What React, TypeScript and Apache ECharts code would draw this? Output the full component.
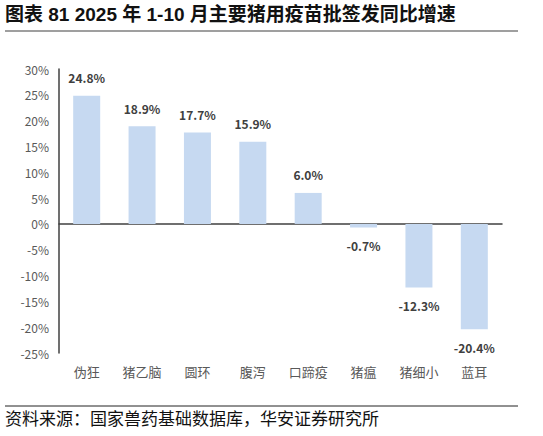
import { useEffect, useRef } from "react"
import * as echarts from "echarts"

const categories = ["伪狂", "猪乙脑", "圆环", "腹泻", "口蹄疫", "猪瘟", "猪细小", "蓝耳"]
const growth = [24.8, 18.9, 17.7, 15.9, 6.0, -0.7, -12.3, -20.4]

const title = "图表 81 2025 年 1-10 月主要猪用疫苗批签发同比增速"
const source = "资料来源：国家兽药基础数据库，华安证券研究所"

const App = () => {
  const chartRef = useRef<HTMLDivElement>(null)

  useEffect(() => {
    if (!chartRef.current) return
    const chart = echarts.init(chartRef.current, undefined, { renderer: "svg" })

    chart.setOption({
      animation: false,
      backgroundColor: "#fff",
      textStyle: { fontFamily: "'Noto Sans CJK SC', 'Noto Sans', sans-serif" },
      graphic: [
        {
          type: "text",
          left: 5,
          top: 5,
          style: {
            text: title,
            fontSize: 19,
            fontWeight: "bold",
            fill: "#111",
            fontFamily: "'Liberation Sans', 'Noto Sans CJK SC', sans-serif",
          },
        },
        {
          type: "line",
          shape: { x1: 5, y1: 31, x2: 518, y2: 31 },
          style: { stroke: "#7f7f7f", lineWidth: 1.5 },
        },
        {
          type: "line",
          shape: { x1: 5, y1: 406, x2: 518, y2: 406 },
          style: { stroke: "#222", lineWidth: 1 },
        },
        {
          type: "text",
          left: 5,
          top: 409,
          style: {
            text: source,
            fontSize: 17,
            fill: "#111",
            fontFamily: "'Noto Sans CJK SC', sans-serif",
          },
        },
      ],
      grid: { left: 59, right: 41, top: 69, bottom: 83, containLabel: false },
      xAxis: [
        {
          type: "category",
          data: categories,
          axisLine: { onZero: true, lineStyle: { color: "#404040", width: 1.5 } },
          axisTick: { show: false },
          axisLabel: { show: false },
        },
        {
          type: "category",
          data: categories,
          position: "bottom",
          axisLine: { show: false, onZero: false },
          axisTick: { show: false },
          axisLabel: { color: "#595959", fontSize: 13, margin: 12 },
        },
      ],
      yAxis: {
        type: "value",
        min: -25,
        max: 30,
        interval: 5,
        axisLine: { show: true, lineStyle: { color: "#404040", width: 1.5 } },
        axisTick: { show: false },
        splitLine: { show: false },
        axisLabel: { color: "#595959", fontSize: 12, margin: 10, formatter: "{value}%" },
      },
      series: [
        {
          type: "bar",
          xAxisIndex: 0,
          data: growth,
          barWidth: 27,
          itemStyle: { color: "#c6d9f1" },
          label: {
            show: true,
            position: "outside",
            distance: 12,
            color: "#404040",
            fontWeight: "bold",
            fontSize: 12,
            formatter: (p: any) => `${p.value.toFixed(1)}%`,
          },
        },
      ],
    })

    return () => {
      chart.dispose()
    }
  }, [])

  return (
    <div
      ref={chartRef}
      style={{ position: "fixed", left: 0, top: 0, width: 543, height: 436 }}
    />
  )
}

export default App
